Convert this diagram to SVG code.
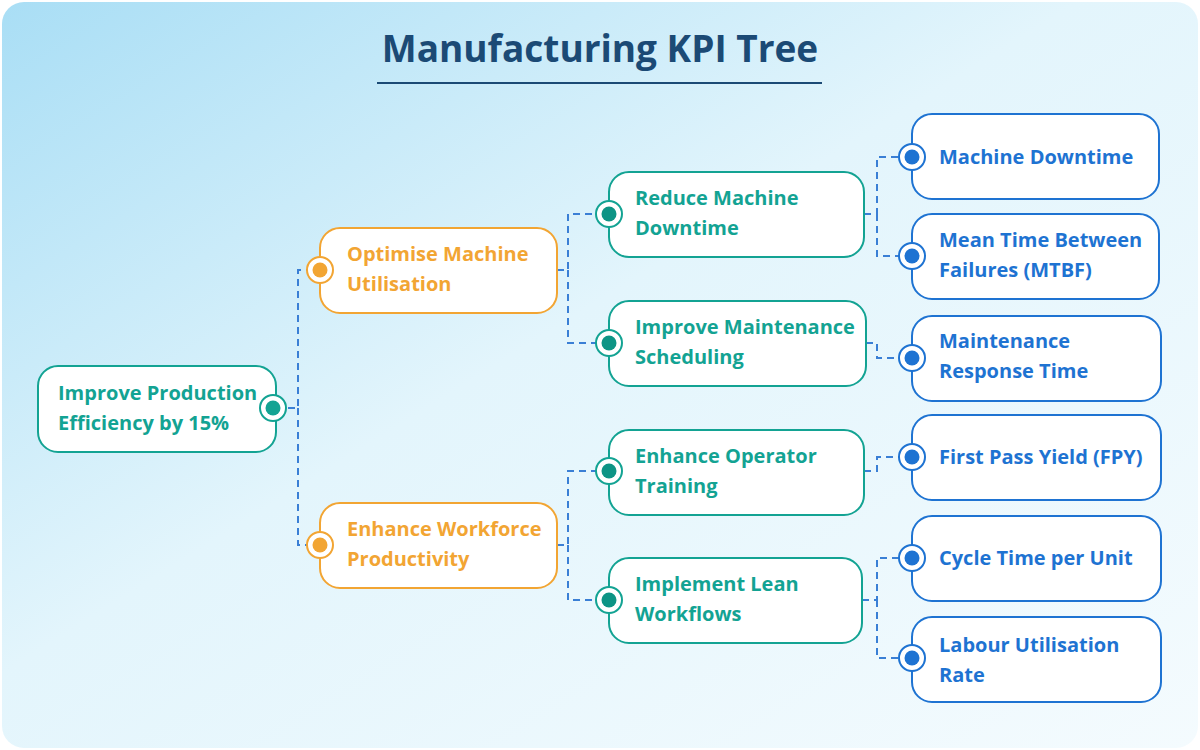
<svg xmlns="http://www.w3.org/2000/svg" width="1200" height="750" viewBox="0 0 1200 750">
<defs>
<linearGradient id="bg" x1="0" y1="0" x2="1" y2="1">
<stop offset="0" stop-color="#a9def5"/><stop offset="0.45" stop-color="#e3f5fc"/><stop offset="1" stop-color="#f4fbfe"/>
</linearGradient>
<style>
.t{font-family:"Open Sans","Noto Sans",sans-serif;font-weight:700;font-size:20px}
.box{fill:#fff;stroke-width:2}
.g{stroke:#13a393}.gt{fill:#13a393}
.o{stroke:#f2a533}.ot{fill:#f2a533}
.b{stroke:#1e73d2}.bt{fill:#1e73d2}
.c{fill:none;stroke:#3a7fd5;stroke-width:2;stroke-dasharray:7 5}
.ring{fill:#fff;stroke-width:2}
</style>
</defs>
<rect x="2" y="2" width="1196" height="746" rx="22" fill="url(#bg)"/>
<text x="600" y="62" text-anchor="middle" font-family="Open Sans,sans-serif" font-weight="700" font-size="37" fill="#1b4a75">Manufacturing KPI Tree</text>
<rect x="377" y="82" width="445" height="2" fill="#1b4a75"/>
<g id="connectors">
<path class="c" d="M276 408H298V270H320M298 408V545H320"/>
<path class="c" d="M557 270H568V214H609M568 270V343H609"/>
<path class="c" d="M557 545H568V471H609M568 545V600H609"/>
<path class="c" d="M864 214H877V157H912M877 214V256H912"/>
<path class="c" d="M866 343H877V358H912"/>
<path class="c" d="M864 471H877V457H912"/>
<path class="c" d="M862 600H877V558H912M877 600V658H912"/>
</g>
<g id="root"><rect class="box g" x="38" y="366" width="238" height="86" rx="20"/><text class="t gt"><tspan x="58" y="400">Improve Production</tspan><tspan x="58" y="430">Efficiency by 15%</tspan></text><circle class="ring g" cx="273" cy="408" r="13"/><circle class="gt" cx="273" cy="408" r="7.5"/></g>
<g id="n1"><rect class="box o" x="320" y="228" width="237" height="85" rx="20"/><text class="t ot"><tspan x="347" y="261">Optimise Machine</tspan><tspan x="347" y="291">Utilisation</tspan></text><circle class="ring o" cx="320" cy="270" r="13"/><circle class="ot" cx="320" cy="270" r="7.5"/></g>
<g id="n2"><rect class="box o" x="320" y="503" width="237" height="85" rx="20"/><text class="t ot"><tspan x="347" y="536">Enhance Workforce</tspan><tspan x="347" y="566">Productivity</tspan></text><circle class="ring o" cx="320" cy="545" r="13"/><circle class="ot" cx="320" cy="545" r="7.5"/></g>
<g id="n3"><rect class="box g" x="609" y="172" width="255" height="85" rx="20"/><text class="t gt"><tspan x="635" y="205">Reduce Machine</tspan><tspan x="635" y="235">Downtime</tspan></text><circle class="ring g" cx="609" cy="214" r="13"/><circle fill="#0d9485" cx="609" cy="214" r="7.5"/></g>
<g id="n4"><rect class="box g" x="609" y="301" width="257" height="85" rx="20"/><text class="t gt"><tspan x="635" y="334">Improve Maintenance</tspan><tspan x="635" y="364">Scheduling</tspan></text><circle class="ring g" cx="609" cy="343" r="13"/><circle fill="#0d9485" cx="609" cy="343" r="7.5"/></g>
<g id="n5"><rect class="box g" x="609" y="430" width="255" height="85" rx="20"/><text class="t gt"><tspan x="635" y="463">Enhance Operator</tspan><tspan x="635" y="493">Training</tspan></text><circle class="ring g" cx="609" cy="471" r="13"/><circle fill="#0d9485" cx="609" cy="471" r="7.5"/></g>
<g id="n6"><rect class="box g" x="609" y="558" width="253" height="85" rx="20"/><text class="t gt"><tspan x="635" y="591">Implement Lean</tspan><tspan x="635" y="621">Workflows</tspan></text><circle class="ring g" cx="609" cy="600" r="13"/><circle fill="#0d9485" cx="609" cy="600" r="7.5"/></g>
<g id="k1"><rect class="box b" x="912" y="114" width="247" height="85" rx="20"/><text class="t bt" x="939" y="164">Machine Downtime</text><circle class="ring b" cx="912" cy="157" r="13"/><circle class="bt" cx="912" cy="157" r="7.5"/></g>
<g id="k2"><rect class="box b" x="912" y="214" width="247" height="85" rx="20"/><text class="t bt"><tspan x="939" y="247">Mean Time Between</tspan><tspan x="939" y="277">Failures (MTBF)</tspan></text><circle class="ring b" cx="912" cy="256" r="13"/><circle class="bt" cx="912" cy="256" r="7.5"/></g>
<g id="k3"><rect class="box b" x="912" y="316" width="249" height="85" rx="20"/><text class="t bt"><tspan x="939" y="348">Maintenance</tspan><tspan x="939" y="378">Response Time</tspan></text><circle class="ring b" cx="912" cy="358" r="13"/><circle class="bt" cx="912" cy="358" r="7.5"/></g>
<g id="k4"><rect class="box b" x="912" y="415" width="249" height="85" rx="20"/><text class="t bt" x="939" y="464">First Pass Yield (FPY)</text><circle class="ring b" cx="912" cy="457" r="13"/><circle class="bt" cx="912" cy="457" r="7.5"/></g>
<g id="k5"><rect class="box b" x="912" y="516" width="249" height="85" rx="20"/><text class="t bt" x="939" y="565">Cycle Time per Unit</text><circle class="ring b" cx="912" cy="558" r="13"/><circle class="bt" cx="912" cy="558" r="7.5"/></g>
<g id="k6"><rect class="box b" x="912" y="617" width="249" height="85" rx="20"/><text class="t bt"><tspan x="939" y="652">Labour Utilisation</tspan><tspan x="939" y="682">Rate</tspan></text><circle class="ring b" cx="912" cy="658" r="13"/><circle class="bt" cx="912" cy="658" r="7.5"/></g>
</svg>
